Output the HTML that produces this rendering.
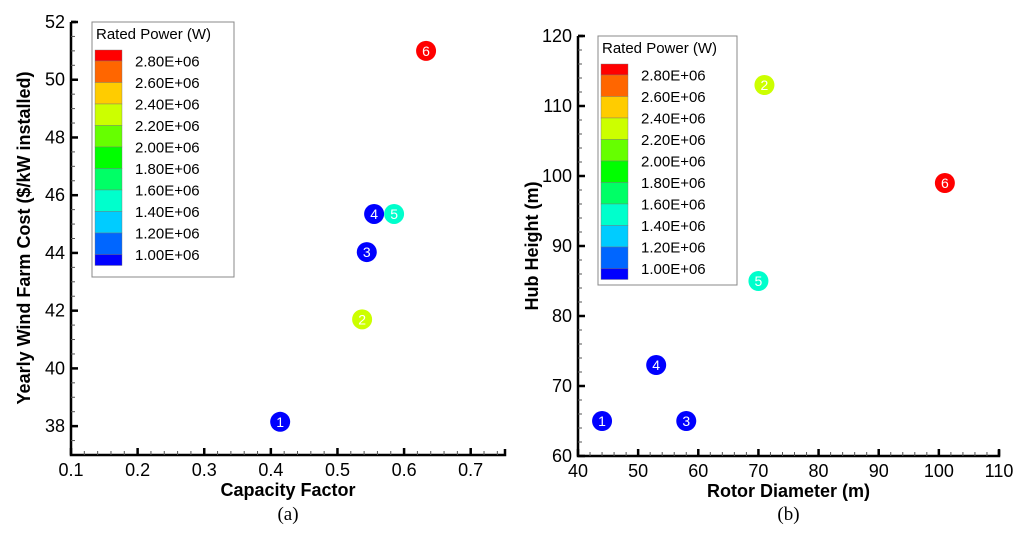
<!DOCTYPE html>
<html><head><meta charset="utf-8"><style>
body{margin:0;background:#fff}
svg{display:block;font-family:"Liberation Sans",sans-serif}
</style></head><body>
<svg id="s" width="1024" height="543" viewBox="0 0 1024 543"></svg>
<script>
const ptLabels=["1","2","3","4","5","6"];
const powerW=[1.0e6,2.3e6,1.0e6,1.0e6,1.5e6,3.0e6];
const capFactor=[0.414,0.537,0.544,0.555,0.585,0.633];
const yearlyCost=[38.15,41.7,44.03,45.35,45.35,51.0];
const rotorDiam=[44,71,58,53,70,101];
const hubHeight=[65,113,65,73,85,99];
const legendLabels=["2.80E+06","2.60E+06","2.40E+06","2.20E+06","2.00E+06","1.80E+06","1.60E+06","1.40E+06","1.20E+06","1.00E+06"];
const bandColors=["#ff0000","#ff6600","#ffcc00","#ccff00","#66ff00","#00ff00","#00ff66","#00ffcc","#00ccff","#0066ff","#0000ff"];
const xTicksA=[0.1,0.2,0.3,0.4,0.5,0.6,0.7];
const yTicksA=[38,40,42,44,46,48,50,52];
const xTicksB=[40,50,60,70,80,90,100,110];
const yTicksB=[60,70,80,90,100,110,120];

const S=document.getElementById('s');const NS="http://www.w3.org/2000/svg";
function mk(t,a,txt){const e=document.createElementNS(NS,t);for(const k in a)e.setAttribute(k,a[k]);if(txt!=null)e.textContent=txt;S.appendChild(e);return e;}
function colorFor(p){const lv=Math.round((p-1.0e6)/2e5);const idx=10-Math.max(0,Math.min(10,lv));return bandColors[idx];}

function chart(o){
  const sx=v=>o.x0+(v-o.xmin)/(o.xmax-o.xmin)*(o.x1-o.x0);
  const sy=v=>o.y0-(v-o.ymin)/(o.ymax-o.ymin)*(o.y0-o.y1);
  let e=mk('path',{d:`M${o.x0},${o.y1}H${o.x0+5}M${o.x0},${o.y1}V${o.y0}H${o.xend}V${o.y0-6}`,stroke:'#000','stroke-width':2.5,fill:'none'});
  
  o.xt.forEach((v,i)=>{const x=sx(v);
    e=mk('line',{x1:x,x2:x,y1:o.y0,y2:o.y0-7,stroke:'#000','stroke-width':2.5});
    
    e=mk('text',{x:x,y:o.y0+21,'text-anchor':'middle','font-size':18},o.xfmt(v));
    
    for(let k=1;k<o.xminor;k++){const v2=v+k*o.xstep/o.xminor;const x2=sx(v2);if(x2<o.xend-1){const m=mk('line',{x1:x2,x2:x2,y1:o.y0,y2:o.y0-4,stroke:'#555','stroke-width':1});}}
  });
  o.yt.forEach((v,i)=>{const y=sy(v);
    e=mk('line',{x1:o.x0,x2:o.x0+7,y1:y,y2:y,stroke:'#000','stroke-width':2.5});
    
    e=mk('text',{x:o.x0-6,y:y+6,'text-anchor':'end','font-size':18},String(v));
    
    if(o.ymax>v){for(let k=1;k<o.yminor;k++){const y2=sy(v+k*o.ystep/o.yminor);const m=mk('line',{x1:o.x0,x2:o.x0+4,y1:y2,y2:y2,stroke:'#555','stroke-width':1});}}
  });
  if(o.ymin<o.yt[0]){for(let k=1;k<o.yminor;k++){const y2=sy(o.yt[0]-k*o.ystep/o.yminor);if(y2<o.y0-1){const m=mk('line',{x1:o.x0,x2:o.x0+4,y1:y2,y2:y2,stroke:'#555','stroke-width':1});}}}
  e=mk('text',{x:(o.x0+o.xend)/2,y:o.y0+41,'text-anchor':'middle','font-size':18,'font-weight':'bold'},o.xtitle);
  
  e=mk('text',{x:0,y:0,'text-anchor':'middle','font-size':18,'font-weight':'bold',transform:`translate(${o.ytx},${o.yty}) rotate(-90)`},o.ytitle);
  
  e=mk('text',{x:(o.x0+o.xend)/2,y:o.capY,'text-anchor':'middle','font-size':19,'font-family':'Liberation Serif,serif'},o.cap);
  
  const L=o.leg;
  e=mk('rect',{x:L.x,y:L.y,width:L.w,height:L.h,fill:'#fff',stroke:'#888','stroke-width':1});
  
  e=mk('text',{x:L.x+4,y:L.y+17,'font-size':15},'Rated Power (W)');
  
  const bt=L.y+28,half=11,bh=21.5;
  bandColors.forEach((c,i)=>{let y,h;if(i==0){y=bt;h=half;}else if(i==10){y=bt+half+9*bh;h=half;}else{y=bt+half+(i-1)*bh;h=bh;}
    const r=mk('rect',{x:L.x+3,y:y,width:27,height:h,fill:c,stroke:'#777','stroke-width':0.4});
    });
  legendLabels.forEach((t,i)=>{const r=mk('text',{x:L.x+43,y:bt+half+i*21.5+5.5,'font-size':15},t);
    });
  ptLabels.forEach((t,i)=>{const x=sx(o.xs[i]),y=sy(o.ys[i]);
    const c=mk('circle',{cx:x,cy:y,r:10,fill:colorFor(powerW[i])});
    
    const tx=mk('text',{x:x,y:y+5,'text-anchor':'middle','font-size':14,fill:'#fff'},t);
    });
}
chart({id:'chart-a',x0:71,x1:470.7,xend:505,xmin:0.1,xmax:0.7,y0:455,y1:22,ymin:37,ymax:52,
  xt:xTicksA,yt:yTicksA,xfmt:v=>v.toFixed(1),xstep:0.1,xminor:5,ystep:2,yminor:4,
  xs:capFactor,ys:yearlyCost,xtitle:'Capacity Factor',ytitle:'Yearly Wind Farm Cost ($/kW installed)',ytx:30,yty:238,cap:'(a)',capY:520,
  leg:{x:92,y:22,w:142,h:255}});
chart({id:'chart-b',x0:578,x1:999,xend:999,xmin:40,xmax:110,y0:456,y1:36,ymin:60,ymax:120,
  xt:xTicksB,yt:yTicksB,xfmt:v=>String(v),xstep:10,xminor:5,ystep:10,yminor:5,
  xs:rotorDiam,ys:hubHeight,xtitle:'Rotor Diameter (m)',ytitle:'Hub Height (m)',ytx:538,yty:246,cap:'(b)',capY:520,
  leg:{x:598,y:36,w:139,h:249}});
</script>
</body></html>
